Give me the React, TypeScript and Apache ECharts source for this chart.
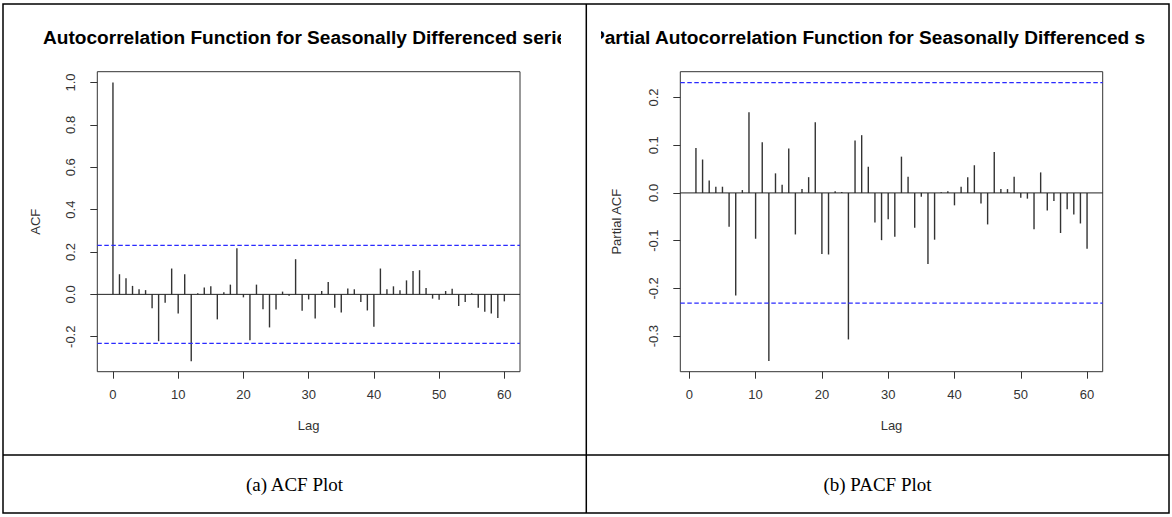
import React, { useEffect, useRef } from "react";
import * as echarts from "echarts";

// ACF values, lags 0..60
const acfValues = [
  1.0, 0.095, 0.076, 0.04, 0.024, 0.02, -0.066, -0.221, -0.04, 0.122,
  -0.09, 0.095, -0.316, 0.005, 0.032, 0.038, -0.118, 0.01, 0.046, 0.218,
  -0.014, -0.216, 0.046, -0.07, -0.156, -0.071, 0.013, -0.006, 0.166, -0.077,
  -0.024, -0.114, 0.016, 0.058, -0.063, -0.085, 0.028, 0.024, -0.036, -0.076,
  -0.153, 0.122, 0.024, 0.038, 0.02, 0.066, 0.11, 0.114, 0.03, -0.02,
  -0.025, 0.016, 0.027, -0.055, -0.036, 0.005, -0.063, -0.082, -0.09, -0.112, -0.033,
];
const acfFirstLag = 0;

// PACF values, lags 1..60
const pacfValues = [
  0.094, 0.07, 0.026, 0.013, 0.013, -0.071, -0.215, 0.006, 0.169, -0.096,
  0.106, -0.352, 0.041, 0.017, 0.093, -0.087, 0.008, 0.033, 0.148, -0.128,
  -0.129, 0.0035, 0.002, -0.307, 0.11, 0.121, 0.055, -0.062, -0.099, -0.055,
  -0.092, 0.076, 0.034, -0.073, -0.008, -0.149, -0.098, 0.0015, 0.0035, -0.026,
  0.013, 0.033, 0.058, -0.022, -0.066, 0.086, 0.008, 0.008, 0.034, -0.01,
  -0.012, -0.076, 0.043, -0.037, -0.017, -0.084, -0.034, -0.045, -0.064, -0.117,
];
const pacfFirstLag = 1;

const confBound = 0.231;

const lagTicks = [0, 10, 20, 30, 40, 50, 60];
const acfTicks = [-0.2, 0, 0.2, 0.4, 0.6, 0.8, 1.0];
const pacfTicks = [-0.3, -0.2, -0.1, 0, 0.1, 0.2];

const acfTitle = "Autocorrelation Function for Seasonally Differenced series";
const pacfTitle = "Partial Autocorrelation Function for Seasonally Differenced s";
const captionA = "(a) ACF Plot";
const captionB = "(b) PACF Plot";

const SANS = "'Liberation Sans', Arial, sans-serif";
const SERIF = "'Liberation Serif', 'Times New Roman', serif";
const AX = "#333";
const BLUE = "#2a2aff";

function fmt(v: number) {
  return Math.abs(v) < 1e-9 ? "0.0" : v.toFixed(1);
}

export default function App() {
  const ref = useRef<HTMLDivElement>(null);

  useEffect(() => {
    if (!ref.current) return;
    const chart = echarts.init(ref.current, undefined, { renderer: "svg" });

    const acfX: [number, number] = [-2.4, 62.4];
    const pacfX: [number, number] = [-1.36, 62.36];

    const xAxisBase = (gridIndex: number, ext: [number, number]) => ({
      gridIndex,
      type: "value",
      min: ext[0],
      max: ext[1],
      axisLine: { show: false, onZero: false },
      splitLine: { show: false },
      axisTick: {
        show: true,
        customValues: lagTicks,
        length: 7,
        lineStyle: { color: AX, width: 1 },
      },
      axisLabel: {
        show: true,
        customValues: lagTicks,
        fontSize: 13,
        color: AX,
        fontFamily: SANS,
        margin: 16,
        formatter: (v: number) => String(Math.round(v)),
      },
      name: "Lag",
      nameLocation: "middle",
      nameGap: 47,
      nameTextStyle: { fontSize: 13, color: AX, fontFamily: SANS },
    });

    const yAxisBase = (gridIndex: number, min: number, max: number, ticks: number[], name: string, nameGap: number) => ({
      gridIndex,
      type: "value",
      min,
      max,
      axisLine: { show: false, onZero: false },
      splitLine: { show: false },
      axisTick: {
        show: true,
        customValues: ticks,
        length: 7,
        lineStyle: { color: AX, width: 1 },
      },
      axisLabel: {
        show: true,
        customValues: ticks,
        rotate: 90,
        fontSize: 13,
        color: AX,
        fontFamily: SANS,
        margin: 20,
        formatter: (v: number) => fmt(v),
      },
      name,
      nameLocation: "middle",
      nameGap,
      nameTextStyle: { fontSize: 13, color: AX, fontFamily: SANS },
    });

    const hLine = (idx: number, ext: [number, number], y: number, color: string, type: any, width: number) => ({
      type: "line",
      xAxisIndex: idx,
      yAxisIndex: idx,
      data: [[ext[0], y], [ext[1], y]],
      symbol: "none",
      silent: true,
      z: 3,
      lineStyle: { color, type, width },
    });

    const dash = [4.5, 2.5];

    const option = {
      animation: false,
      backgroundColor: "#fff",
      grid: [
        { left: 97.3, top: 71.7, width: 422.7, height: 300, show: true, borderColor: AX, borderWidth: 1, backgroundColor: "transparent" },
        { left: 680.3, top: 71.7, width: 422.4, height: 300, show: true, borderColor: AX, borderWidth: 1, backgroundColor: "transparent" },
      ],
      xAxis: [xAxisBase(0, acfX), xAxisBase(1, pacfX)],
      yAxis: [
        yAxisBase(0, -0.365, 1.051, acfTicks, "ACF", 55),
        yAxisBase(1, -0.3746, 0.254, pacfTicks, "Partial ACF", 57),
      ],
      series: [
        {
          type: "bar",
          xAxisIndex: 0,
          yAxisIndex: 0,
          barWidth: 1.4,
          itemStyle: { color: "#333" },
          data: acfValues.map((v, i) => [acfFirstLag + i, v]),
        },
        {
          type: "bar",
          xAxisIndex: 1,
          yAxisIndex: 1,
          barWidth: 1.4,
          itemStyle: { color: "#333" },
          data: pacfValues.map((v, i) => [pacfFirstLag + i, v]),
        },
        hLine(0, acfX, 0, "#222", "solid", 1),
        hLine(0, acfX, confBound, BLUE, dash, 1.2),
        hLine(0, acfX, -confBound, BLUE, dash, 1.2),
        hLine(1, pacfX, 0, "#222", "solid", 1),
        hLine(1, pacfX, confBound, BLUE, dash, 1.2),
        hLine(1, pacfX, -confBound, BLUE, dash, 1.2),
      ],
      graphic: [
        // titles
        { type: "text", z: 1, x: 43, y: 37, style: { text: acfTitle, font: `bold 19.1px ${SANS}`, fill: "#000", verticalAlign: "middle", align: "left" }, silent: true },
        { type: "text", z: 1, x: 592, y: 37, style: { text: pacfTitle, font: `bold 19.1px ${SANS}`, fill: "#000", verticalAlign: "middle", align: "left" }, silent: true },
        // masks that crop the titles as in the reference
        { type: "rect", z: 2, shape: { x: 561, y: 15, width: 24, height: 45 }, style: { fill: "#fff" }, silent: true },
        { type: "rect", z: 2, shape: { x: 588, y: 15, width: 13, height: 45 }, style: { fill: "#fff" }, silent: true },
        // table borders
        { type: "rect", z: 3, shape: { x: 3, y: 4, width: 1166, height: 509 }, style: { fill: "none", stroke: "#000", lineWidth: 1.5 }, silent: true },
        { type: "line", z: 3, shape: { x1: 586.3, y1: 4, x2: 586.3, y2: 513 }, style: { stroke: "#000", lineWidth: 1.5 }, silent: true },
        { type: "line", z: 3, shape: { x1: 3, y1: 455, x2: 1169, y2: 455 }, style: { stroke: "#000", lineWidth: 1.5 }, silent: true },
        // captions
        { type: "text", z: 3, x: 294.5, y: 484, style: { text: captionA, font: `19px ${SERIF}`, fill: "#000", verticalAlign: "middle", align: "center" }, silent: true },
        { type: "text", z: 3, x: 877.5, y: 484, style: { text: captionB, font: `19px ${SERIF}`, fill: "#000", verticalAlign: "middle", align: "center" }, silent: true },
      ],
    };

    chart.setOption(option as any);
    return () => chart.dispose();
  }, []);

  return (
    <div
      ref={ref}
      style={{ position: "absolute", left: 0, top: 0, width: 1172, height: 517, background: "#fff" }}
    />
  );
}
